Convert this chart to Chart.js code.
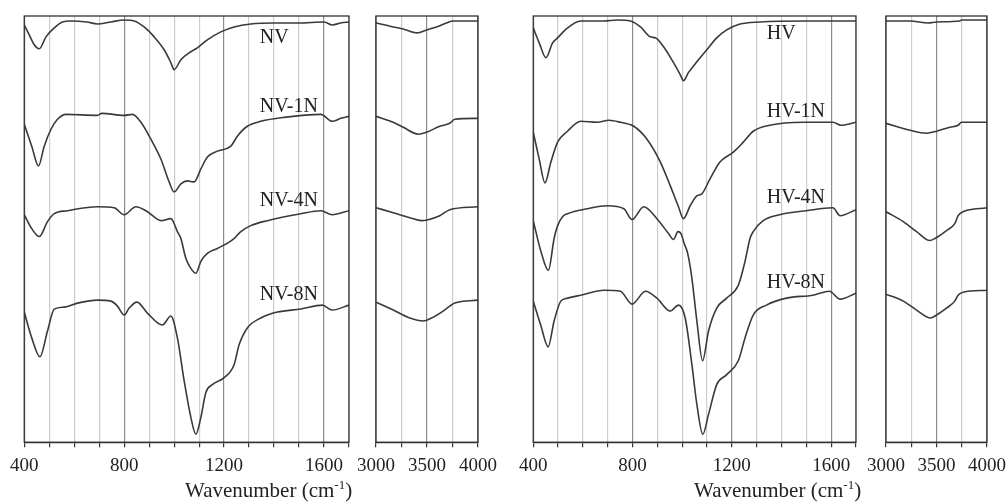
<!DOCTYPE html>
<html>
<head>
<meta charset="utf-8">
<script src="https://cdn.jsdelivr.net/npm/chart.js@4.4.1/dist/chart.umd.min.js"></script>
<style>
  body { margin: 0; background: #fff; width: 1007px; height: 503px; overflow: hidden; position: relative; }
  canvas { position: absolute; top: 0; }
  .xtitle { position: absolute; top: 480px; font: 21px "Liberation Serif", serif; line-height: 21px; color: #222; white-space: nowrap; }
  .xtitle sup { font-size: 13px; line-height: 0; }
</style>
</head>
<body>
<canvas id="p1" width="366" height="503" style="left:3px"></canvas>
<canvas id="p2" width="154" height="503" style="left:350px"></canvas>
<canvas id="p3" width="364" height="503" style="left:512px"></canvas>
<canvas id="p4" width="153" height="503" style="left:860px"></canvas>
<div class="xtitle" style="left:185px">Wavenumber (cm<sup>-1</sup>)</div>
<div class="xtitle" style="left:694px">Wavenumber (cm<sup>-1</sup>)</div>
<script>
// [wavenumber, offset transmittance (a.u.)]
const NV_low = [[400,420],[420,410],[440,400],[460,396],[487,408],[520,417],[553,423],[587,424],[650,423],[693,421],[747,423],[800,425],[840,424],[880,418],[920,408],[960,395],[987,382],[1000,375],[1027,385],[1067,393],[1093,397],[1133,405],[1187,413],[1240,418],[1307,421],[1400,422],[1500,422],[1600,423],[1633,420],[1667,422],[1700,423]];
const NV1N_low = [[400,320],[430,298],[457,278],[480,298],[507,315],[533,325],[567,330],[693,329],[710,331],[800,329],[833,330],[867,322],[907,305],[947,285],[980,262],[1000,252],[1027,260],[1053,263],[1080,262],[1107,275],[1133,287],[1173,293],[1227,298],[1253,308],[1293,318],[1347,323],[1440,327],[1587,330],[1633,323],[1667,326],[1700,328]];
const NV4N_low = [[400,229],[430,215],[460,207],[493,222],[520,230],[573,233],[693,237],[760,236],[800,229],[847,237],[893,232],[947,223],[987,225],[1013,212],[1027,205],[1047,185],[1067,175],[1087,170],[1107,182],[1133,190],[1173,195],[1240,205],[1267,212],[1307,218],[1373,223],[1507,230],[1587,233],[1633,229],[1700,233]];
const NV8N_low = [[400,131],[430,105],[463,86],[493,112],[520,134],[560,136],[613,140],[693,143],[747,142],[773,137],[800,128],[820,135],[851,141],[893,130],[953,118],[987,127],[1013,105],[1040,62],[1067,25],[1087,8],[1107,25],[1127,50],[1153,58],[1200,65],[1240,78],[1260,98],[1293,115],[1347,125],[1413,131],[1507,134],[1593,138],[1633,133],[1700,138]];

const NV_high = [[3000,422],[3169,418],[3267,416],[3404,412],[3495,415],[3593,418],[3691,422],[3756,424],[4000,424]];
const NV1N_high = [[3000,328],[3169,322],[3267,317],[3414,310],[3495,312],[3625,318],[3723,321],[3772,325],[4000,326]];
const NV4N_high = [[3000,236],[3169,231],[3332,226],[3446,223],[3511,224],[3625,228],[3723,234],[4000,237]];
const NV8N_high = [[3000,141],[3169,133],[3332,125],[3463,122],[3544,125],[3658,132],[3723,137],[3772,140],[4000,143]];

const HV_low = [[400,417],[424,402],[451,387],[478,402],[498,407],[538,417],[591,424],[685,424],[738,425],[792,424],[832,418],[872,408],[892,407],[925,398],[965,382],[992,370],[1005,364],[1025,372],[1059,383],[1099,395],[1139,407],[1179,415],[1233,421],[1313,423],[1500,424],[1700,424]];
const HV1N_low = [[400,312],[424,285],[447,261],[471,282],[498,302],[538,313],[591,323],[658,322],[705,324],[751,322],[805,318],[858,305],[912,282],[952,258],[985,237],[1005,225],[1032,238],[1059,248],[1079,250],[1112,265],[1152,282],[1206,292],[1246,302],[1286,313],[1353,319],[1486,322],[1607,322],[1640,319],[1700,322]];
const HV4N_low = [[400,223],[431,192],[461,173],[484,205],[498,218],[518,227],[538,230],[618,235],[698,238],[765,235],[798,224],[845,237],[898,225],[945,210],[965,204],[983,212],[995,210],[1008,200],[1022,190],[1039,165],[1059,122],[1082,82],[1106,112],[1139,135],[1179,145],[1226,158],[1253,182],[1273,205],[1286,212],[1326,223],[1393,229],[1500,233],[1607,236],[1636,228],[1700,234]];
const HV8N_low = [[400,142],[430,118],[460,96],[484,122],[511,142],[538,145],[591,148],[685,153],[751,152],[798,139],[852,152],[898,145],[952,132],[985,138],[1012,125],[1039,78],[1059,38],[1083,8],[1106,28],[1139,58],[1179,68],[1226,82],[1253,105],[1286,128],[1339,138],[1420,145],[1527,148],[1593,152],[1636,144],[1700,150]];

const HV_high = [[3000,424],[3237,424],[3418,422],[3500,423],[3730,424],[3747,425],[4000,425]];
const HV1N_high = [[3000,321],[3237,314],[3401,311],[3500,313],[3632,317],[3714,319],[3747,322],[4000,322]];
const HV4N_high = [[3000,232],[3171,222],[3303,212],[3434,203],[3484,205],[3599,213],[3681,220],[3714,228],[3763,232],[4000,236]];
const HV8N_high = [[3000,149],[3171,142],[3303,133],[3441,125],[3500,128],[3599,135],[3681,142],[3714,148],[3763,151],[4000,153]];

const NV_names = ['NV', 'NV-1N', 'NV-4N', 'NV-8N'];
const HV_names = ['HV', 'HV-1N', 'HV-4N', 'HV-8N'];

const LINE = '#3a3a3a';
const FONT = '"Liberation Serif", "Times New Roman", serif';

// box around the plot area
const frame = {
  id: 'frame',
  afterDraw(chart) {
    const a = chart.chartArea, c = chart.ctx;
    c.save();
    c.strokeStyle = '#333';
    c.lineWidth = 1.3;
    c.strokeRect(a.left, a.top, a.right - a.left, a.bottom - a.top);
    c.restore();
  }
};

// sample names next to the curves, placed in data coordinates
const names = {
  id: 'names',
  afterDatasetsDraw(chart, args, opts) {
    if (!opts.items) return;
    const c = chart.ctx, xs = chart.scales.x, ys = chart.scales.y;
    c.save();
    c.font = '20px ' + FONT;
    c.fillStyle = '#222';
    c.textAlign = 'left';
    c.textBaseline = 'middle';
    opts.items.forEach(it => c.fillText(it.text, xs.getPixelForValue(it.x), ys.getPixelForValue(it.y)));
    c.restore();
  }
};

function panel(id, series, xmin, xmax, step, major, side, items) {
  return new Chart(document.getElementById(id), {
    type: 'line',
    data: {
      datasets: series.map(s => ({
        data: s.map(p => ({x: p[0], y: p[1]})),
        borderColor: LINE,
        borderWidth: 1.6,
        pointRadius: 0,
        fill: false,
        cubicInterpolationMode: 'monotone'
      }))
    },
    options: {
      responsive: false,
      animation: false,
      devicePixelRatio: 1,
      layout: {padding: {left: side, right: side, top: 16, bottom: 19}},
      plugins: {legend: {display: false}, tooltip: {enabled: false}, names: {items: items}},
      scales: {
        x: {
          type: 'linear', min: xmin, max: xmax,
          grid: {
            color: ctx => (ctx.tick && ctx.tick.value % major === 0) ? '#8c8c8c' : '#cdcdcd',
            lineWidth: 1.2,
            tickLength: 5,
            tickColor: '#333'
          },
          border: {color: '#333', width: 1.3},
          ticks: {
            stepSize: step, autoSkip: false, maxRotation: 0, padding: 7,
            color: '#222', font: {family: FONT, size: 19},
            callback: v => v % major === 0 ? String(v) : ''
          }
        },
        y: {display: false, min: 0, max: 429}
      }
    },
    plugins: [frame, names]
  });
}

const labY_NV = [407, 338, 243, 148];
const labY_HV = [411, 333, 246, 160];

panel('p1', [NV_low, NV1N_low, NV4N_low, NV8N_low], 400, 1700, 100, 400, 20,
  NV_names.map((t, i) => ({text: t, x: 1343, y: labY_NV[i]})));
panel('p2', [NV_high, NV1N_high, NV4N_high, NV8N_high], 3000, 4000, 250, 500, 26, null);
panel('p3', [HV_low, HV1N_low, HV4N_low, HV8N_low], 400, 1700, 100, 400, 20,
  HV_names.map((t, i) => ({text: t, x: 1341, y: labY_HV[i]})));
panel('p4', [HV_high, HV1N_high, HV4N_high, HV8N_high], 3000, 4000, 250, 500, 26, null);
</script>
</body>
</html>
